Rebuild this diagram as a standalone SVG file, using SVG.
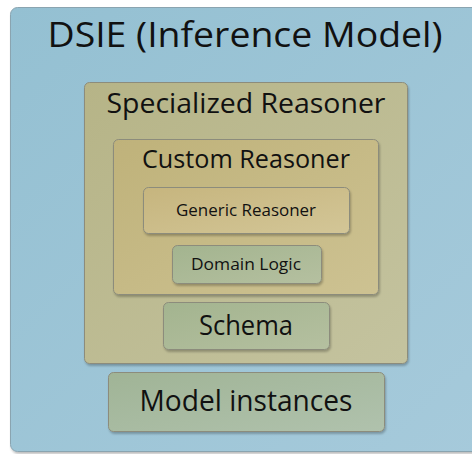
<svg xmlns="http://www.w3.org/2000/svg" width="472" height="454" viewBox="0 0 472 454">
<defs>
<linearGradient id="gBlue" x1="0" y1="0" x2="1" y2="1"><stop offset="0" stop-color="#94c0d2"/><stop offset="1" stop-color="#a6cadb"/></linearGradient>
<linearGradient id="gOlive" x1="0" y1="0" x2="1" y2="1"><stop offset="0" stop-color="#b6b487"/><stop offset="1" stop-color="#c4c39f"/></linearGradient>
<linearGradient id="gTan" x1="0" y1="0" x2="1" y2="1"><stop offset="0" stop-color="#bfb27a"/><stop offset="1" stop-color="#cdc292"/></linearGradient>
<linearGradient id="gTan2" x1="0" y1="0" x2="1" y2="1"><stop offset="0" stop-color="#c6b57e"/><stop offset="1" stop-color="#d3c697"/></linearGradient>
<linearGradient id="gGreen" x1="0" y1="0" x2="1" y2="1"><stop offset="0" stop-color="#a3b48f"/><stop offset="1" stop-color="#b5c0a0"/></linearGradient>
<linearGradient id="gGreen2" x1="0" y1="0" x2="1" y2="1"><stop offset="0" stop-color="#a0b496"/><stop offset="1" stop-color="#b0c2ad"/></linearGradient>
<filter id="sh" x="-5%" y="-5%" width="110%" height="115%"><feDropShadow dx="1" dy="2" stdDeviation="1.2" flood-color="#000" flood-opacity="0.25"/></filter>
</defs>
<style>
rect{stroke:#8c8c7c;stroke-width:1;filter:url(#sh)}
text{font-family:"Open Sans","Noto Sans",sans-serif;fill:#111;text-anchor:middle}
</style>
<rect x="0" y="0" width="472" height="454" fill="#ffffff" style="stroke:none;filter:none"/>
<g id="dsie">
<rect x="10.5" y="7.5" width="480" height="444" rx="7" fill="url(#gBlue)" style="stroke:#8aa4b0"/>
<text x="245" y="47" font-size="34" textLength="395" lengthAdjust="spacingAndGlyphs">DSIE (Inference Model)</text>
</g>
<g id="specialized">
<rect x="84.5" y="82.5" width="323" height="281" rx="5" fill="url(#gOlive)"/>
<text x="246" y="113" font-size="28" textLength="279" lengthAdjust="spacingAndGlyphs">Specialized Reasoner</text>
</g>
<g id="custom">
<rect x="113.5" y="139.5" width="265" height="155" rx="5" fill="url(#gTan)"/>
<text x="246" y="168" font-size="26" textLength="208" lengthAdjust="spacingAndGlyphs">Custom Reasoner</text>
</g>
<g id="generic">
<rect x="143.5" y="187.5" width="206" height="46" rx="5" fill="url(#gTan2)"/>
<text x="246" y="216" font-size="16.5" textLength="140" lengthAdjust="spacingAndGlyphs">Generic Reasoner</text>
</g>
<g id="domain">
<rect x="172.5" y="245.5" width="149" height="38" rx="5" fill="url(#gGreen)"/>
<text x="246" y="270" font-size="17" textLength="110" lengthAdjust="spacingAndGlyphs">Domain Logic</text>
</g>
<g id="schema">
<rect x="163.5" y="302.5" width="166" height="47" rx="5" fill="url(#gGreen)"/>
<text x="246" y="335" font-size="27" textLength="94" lengthAdjust="spacingAndGlyphs">Schema</text>
</g>
<g id="instances">
<rect x="108.5" y="372.5" width="276" height="59" rx="5" fill="url(#gGreen2)"/>
<text x="246" y="411" font-size="30" textLength="213" lengthAdjust="spacingAndGlyphs">Model instances</text>
</g>
<g id="connectors"/>
</svg>
